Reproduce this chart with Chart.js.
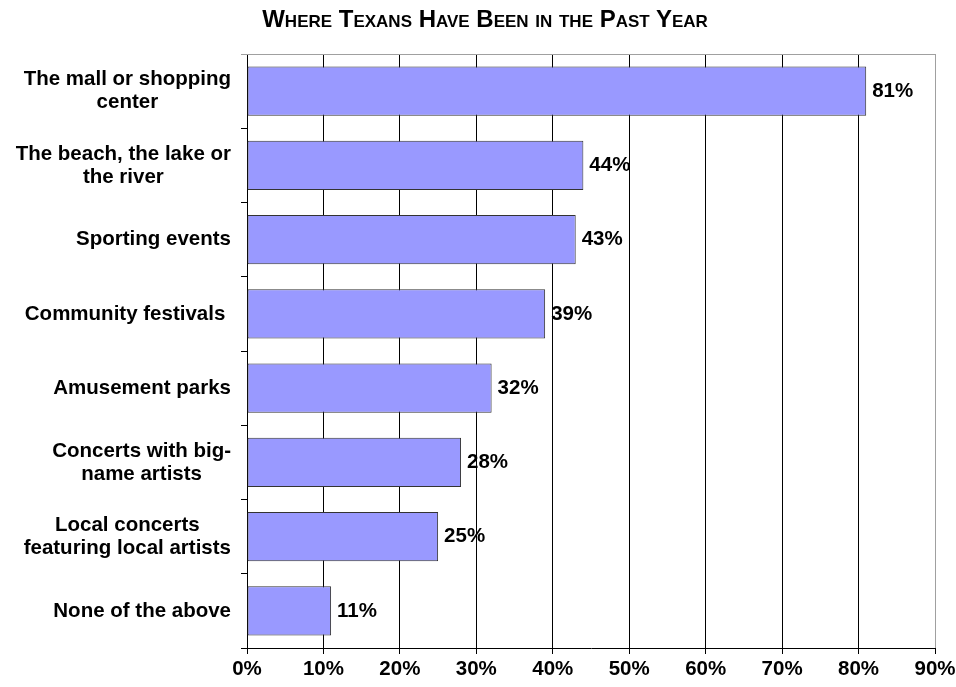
<!DOCTYPE html>
<html>
<head>
<meta charset="utf-8">
<script src="https://cdn.jsdelivr.net/npm/chart.js@4/dist/chart.umd.min.js"></script>
<style>
  body { margin: 0; background: #fff; }
  #wrap { position: relative; width: 956px; height: 687px; }
  #title {
    position: absolute; left: 14px; width: 942px; top: 5px;
    text-align: center; color: #000;
    font: bold 24px "Liberation Sans", Arial, sans-serif;
    font-variant: small-caps;
  }
</style>
</head>
<body>
<div id="wrap">
  <div id="title">Where Texans Have Been in the Past Year</div>
  <canvas id="placesChart" width="956" height="687"></canvas>
</div>
<script>
// categories (one array of lines per label) and percentages
var places = [
    ["The mall or shopping", "center"],
    ["The beach, the lake or", "the river"],
    ["Sporting events"],
    ["Community festivals "],
    ["Amusement parks"],
    ["Concerts with big-", "name artists"],
    ["Local concerts", "featuring local artists"],
    ["None of the above"]
];
var percents = [81, 44, 43, 39, 32, 28, 25, 11];
var xTicks = [0, 10, 20, 30, 40, 50, 60, 70, 80, 90];

var labelFont = 'bold 20.5px "Liberation Sans", Arial, sans-serif';

// draws the category names (lines centred on each other) and the value labels
var textPlugin = {
    id: 'textPlugin',
    beforeDatasetsDraw: function (chart) {
        var ctx = chart.ctx, a = chart.chartArea;
        ctx.save();
        ctx.strokeStyle = '#a0a0a0';
        ctx.lineWidth = 1;
        ctx.beginPath();
        ctx.moveTo(a.left - 6, Math.round(a.top) + 0.5);
        ctx.lineTo(a.right, Math.round(a.top) + 0.5);
        ctx.stroke();
        ctx.restore();
    },
    afterDraw: function (chart) {
        var ctx = chart.ctx;
        var yScale = chart.scales.y;
        var lineH = 23;
        ctx.save();
        ctx.font = labelFont;
        ctx.fillStyle = '#000';
        ctx.textBaseline = 'middle';
        ctx.textAlign = 'center';
        places.forEach(function (lines, i) {
            var y = yScale.getPixelForTick(i);
            var maxW = 0;
            lines.forEach(function (l) { maxW = Math.max(maxW, ctx.measureText(l).width); });
            var cx = 231 - maxW / 2;
            var y0 = y - (lines.length - 1) * lineH / 2;
            lines.forEach(function (l, k) { ctx.fillText(l, cx, y0 + k * lineH); });
        });
        ctx.textAlign = 'left';
        chart.getDatasetMeta(0).data.forEach(function (bar, i) {
            ctx.fillText(percents[i] + '%', bar.x + 6, bar.y);
        });
        ctx.restore();
    }
};

var config = {
    type: 'bar',
    data: {
        labels: places,
        datasets: [{
            data: percents,
            backgroundColor: '#9999ff',
            borderColor: '#333333',
            borderWidth: 1,
            borderSkipped: false,
            barPercentage: 0.66,
            categoryPercentage: 1
        }]
    },
    options: {
        indexAxis: 'y',
        responsive: false,
        animation: false,
        layout: { padding: { top: 54, right: 21, left: 0, bottom: 0 } },
        plugins: {
            legend: { display: false },
            tooltip: { enabled: false }
        },
        scales: {
            x: {
                min: 0,
                max: 90,
                afterBuildTicks: function (s) {
                    s.ticks = xTicks.map(function (v) { return { value: v }; });
                },
                afterFit: function (s) {
                    s.height = 39;
                    s.paddingLeft = 0;
                    s.paddingRight = 0;
                },
                ticks: {
                    padding: 3,
                    color: '#000',
                    font: { family: '"Liberation Sans", Arial, sans-serif', size: 20.5, weight: 'bold' },
                    callback: function (v) { return v + '%'; },
                    maxRotation: 0
                },
                grid: {
                    color: function (c) { return c.tick && c.tick.value === 90 ? '#a0a0a0' : '#000'; },
                    tickColor: '#000',
                    tickLength: 6,
                    lineWidth: 1
                },
                border: { color: '#000' }
            },
            y: {
                afterFit: function (s) { s.width = 247; },
                ticks: { display: false },
                grid: {
                    drawOnChartArea: false,
                    offset: true,
                    tickLength: 6,
                    color: '#000'
                },
                border: { color: '#000' }
            }
        }
    },
    plugins: [textPlugin]
};

var ctx = document.getElementById('placesChart').getContext('2d');
var placesChart = new Chart(ctx, config);
</script>
</body>
</html>
